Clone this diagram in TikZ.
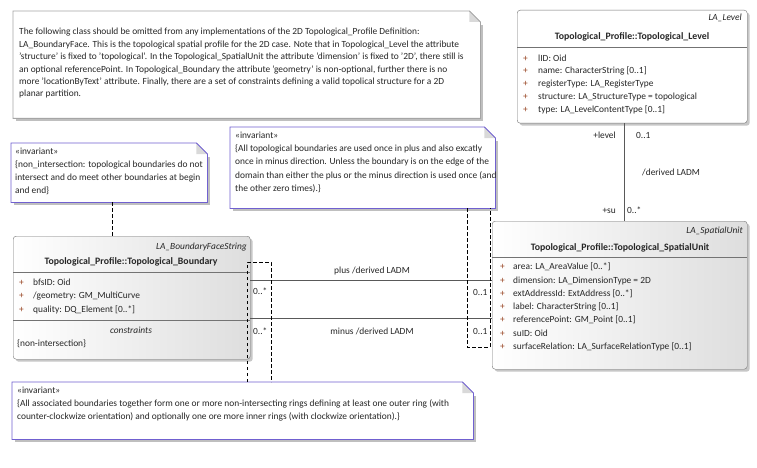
\documentclass[tikz,border=0pt]{standalone}
\usepackage{fontspec}
\setmainfont{Carlito}
\usetikzlibrary{shadows}
\definecolor{invline}{RGB}{112,96,208}
\definecolor{notegray}{RGB}{165,165,165}
\definecolor{plusred}{RGB}{150,65,30}

\begin{document}
\begin{tikzpicture}[x=1pt, y=-1pt,
	every node/.style={font=\fontsize{9.4}{13}\selectfont, text=black!85, inner sep=0pt},
	txt/.style={anchor=base west},
	txtr/.style={anchor=base east},
	plussign/.style={anchor=base west, text=plusred},
	stereo/.style={anchor=base east, font=\fontsize{9.4}{13}\selectfont\itshape},
	cname/.style={anchor=base, font=\fontsize{9.8}{13}\selectfont\bfseries},
	umlclass/.style={draw=black!55, fill=white, rounded corners=3pt, anchor=north west,
		drop shadow={shadow xshift=2.5pt, shadow yshift=-2.5pt, fill=black!22, opacity=1}},
	gradclass/.style={umlclass, left color=white, right color=black!13},
	notebox/.style={anchor=north west},
	assoc/.style={draw=black!65, line width=0.8pt},
	notelink/.style={draw=black, line width=0.7pt, dash pattern=on 3.5pt off 2.5pt}]

	\fill[white] (0,0) rectangle (757,468);
	\useasboundingbox (0,0) rectangle (757,468);

	\node[notebox, minimum width=467pt, minimum height=107pt] (top) at (13,11) {};
	\node[notebox, minimum width=196pt, minimum height=59pt] (inv1) at (11,143) {};
	\node[notebox, minimum width=265pt, minimum height=81pt] (inv2) at (230,127) {};
	\node[notebox, minimum width=461pt, minimum height=57pt] (inv3) at (12,382) {};

	\foreach \n/\c in {top/notegray, inv1/invline, inv2/invline, inv3/invline} {
		\fill[black!25] ([xshift=3pt,yshift=-3pt]\n.south west) rectangle ([xshift=3pt,yshift=-14pt]\n.north east);
		\draw[\c, fill=white, line width=0.8pt] (\n.south west) -- (\n.north west) -- ([xshift=-11pt]\n.north east)
			-- ([yshift=-11pt]\n.north east) -- (\n.south east) -- cycle;
		\fill[black!15] ([xshift=-11pt]\n.north east) -- ([xshift=-11pt,yshift=-11pt]\n.north east)
			-- ([yshift=-11pt]\n.north east) -- cycle;
		\draw[\c, line width=0.8pt] ([xshift=-11pt]\n.north east) -- ([yshift=-11pt]\n.north east);
	}

	\foreach \t [count=\i] in {{The following class should be omitted from any implementations of the 2D Topological\_Profile Definition:},
		{LA\_BoundaryFace. This is the topological spatial profile for the 2D case. Note that in Topological\_Level the attribute},
		{'structure' is fixed to 'topological'. In the Topological\_SpatialUnit the attribute 'dimension' is fixed to '2D', there still is},
		{an optional referencePoint. In Topological\_Boundary the attribute 'geometry' is non-optional, further there is no},
		{more 'locationByText' attribute. Finally, there are a set of constraints defining a valid topolical structure for a 2D},
		{planar partition.}}
		\node[txt] (topt\i) at (19, {35+12.4*(\i-1)}) {\t};

	\foreach \t [count=\i] in {{«invariant»}, {\{non\_intersection: topological boundaries do not},
		{intersect and do meet other boundaries at begin}, {and end\}}}
		\node[txt] (inva\i) at (15, {154+13*(\i-1)}) {\t};

	\foreach \t [count=\i] in {{«invariant»}, {\{All topological boundaries are used once in plus and also excatly},
		{once in minus direction. Unless the boundary is on the edge of the},
		{domain than either the plus or the minus direction is used once (and},
		{the other zero times).\}}}
		\node[txt] (invb\i) at (235, {138.7+13.1*(\i-1)}) {\t};

	\foreach \t [count=\i] in {{«invariant»},
		{\{All associated boundaries together form one or more non-intersecting rings defining at least one outer ring (with},
		{counter-clockwize orientation) and optionally one ore more inner rings (with clockwize orientation).\}}}
		\node[txt] (invc\i) at (17, {393.7+13*(\i-1)}) {\t};

	\node[umlclass, minimum width=230pt, minimum height=113pt] (lvl) at (517,10) {};
	\draw[black!55] (lvl.west |- 0,47) -- (lvl.east |- 0,47);
	\node[stereo] (lvlst) at (742,21) {LA\_Level};
	\node[cname] (lvlnm) at (632,40) {Topological\_Profile::Topological\_Level};
	\foreach \a [count=\i] in {{lID: Oid}, {name: CharacterString [0..1]}, {registerType: LA\_RegisterType},
		{structure: LA\_StructureType = topological}, {type: LA\_LevelContentType [0..1]}} {
		\node[plussign] (lvlp\i) at (523, {61.3+12.7*(\i-1)}) {+};
		\node[txt] (lvla\i) at (538, {61.3+12.7*(\i-1)}) {\a};
	}

	\node[gradclass, minimum width=255pt, minimum height=148pt] (su) at (492,221) {};
	\draw[black!55] (su.west |- 0,257) -- (su.east |- 0,257);
	\node[stereo] (sust) at (743,233) {LA\_SpatialUnit};
	\node[cname] (sunm) at (620,250) {Topological\_Profile::Topological\_SpatialUnit};
	\foreach \a [count=\i] in {{area: LA\_AreaValue [0..*]}, {dimension: LA\_DimensionType = 2D},
		{extAddressId: ExtAddress [0..*]}, {label: CharacterString [0..1]}, {referencePoint: GM\_Point [0..1]},
		{suID: Oid}, {surfaceRelation: LA\_SurfaceRelationType [0..1]}} {
		\node[plussign] (sup\i) at (500, {269.7+13.3*(\i-1)}) {+};
		\node[txt] (sua\i) at (513, {269.7+13.3*(\i-1)}) {\a};
	}

	\node[gradclass, minimum width=237pt, minimum height=123pt] (bnd) at (13,236) {};
	\draw[black!55] (bnd.west |- 0,272) -- (bnd.east |- 0,272);
	\draw[black!55] (bnd.west |- 0,320) -- (bnd.east |- 0,320);
	\node[stereo] (bndst) at (247,249) {LA\_BoundaryFaceString};
	\node[cname] (bndnm) at (131,264) {Topological\_Profile::Topological\_Boundary};
	\foreach \a [count=\i] in {{bfsID: Oid}, {/geometry: GM\_MultiCurve}, {quality: DQ\_Element [0..*]}} {
		\node[plussign] (bndp\i) at (19, {285.7+13.2*(\i-1)}) {+};
		\node[txt] (bnda\i) at (33, {285.7+13.2*(\i-1)}) {\a};
	}
	\node[anchor=base, font=\fontsize{9.4}{13}\selectfont\itshape] (bndcs) at (131,333) {constraints};
	\node[txt] (bndc1) at (17,346) {\{non-intersection\}};

	\draw[assoc] (lvl.south -| 624,0) -- (su.north -| 624,0);
	\node[txtr] (lvlrole) at (616,139) {+level};
	\node[txt] (lvlmul) at (636,139) {0..1};
	\node[txt] (lvllbl) at (642,175) {/derived LADM};
	\node[txtr] (surole) at (616,213) {+su};
	\node[txt] (sumul) at (627,213) {0..*};

	\draw[assoc] (bnd.east |- 0,280) -- (su.west |- 0,280);
	\node[anchor=base] (pluslbl) at (372,273) {plus /derived LADM};
	\node[txt] (plusm1) at (253,294.7) {0..*};
	\node[txt] (plusm2) at (473,295) {0..1};

	\draw[assoc] (bnd.east |- 0,318) -- (su.west |- 0,318);
	\node[anchor=base] (minuslbl) at (372,334) {minus /derived LADM};
	\node[txt] (minusm1) at (253,334) {0..*};
	\node[txt] (minusm2) at (473,334) {0..1};

	\draw[notelink] (inv1.south -| 112,0) -- (bnd.north -| 112,0);
	\draw[notelink] (inv3.north -| 247,0) |- (271,262) -- (inv3.north -| 271,0);
	\draw[notelink] (inv2.south -| 467,0) |- (490,347) -- (inv2.south -| 490,0);
\end{tikzpicture}
\end{document}
